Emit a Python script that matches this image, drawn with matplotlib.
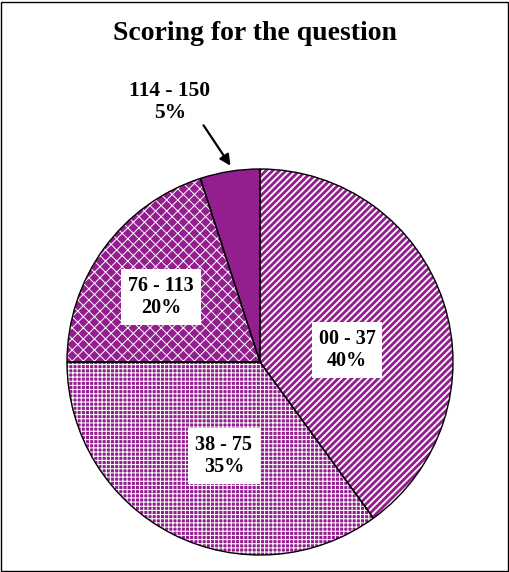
import matplotlib.pyplot as plt
from matplotlib.patches import Rectangle

ranges = ['00 - 37', '38 - 75', '76 - 113', '114 - 150']
shares = [40, 35, 20, 5]
hatches = ['/////', '++++', 'xxx', '']
hatch_lw = [1.3, 0.75, 0.7, 1.0]
# label centres (pixels, y from top)
label_pos = [(347, 350), (224, 456), (161, 297), (170, 102)]
title = 'Scoring for the question'

purple = '#931F8F'
serif = ['Liberation Serif', 'DejaVu Serif']

fig = plt.figure(figsize=(5.10, 5.72), dpi=100)
ax = fig.add_axes([0, 0, 1, 1])

center = (260, 362)
radius = 193

# fill + white hatch (y is inverted, so counterclock=True turns clockwise on screen)
wedges, _ = ax.pie(shares, center=center, radius=radius, startangle=-90,
                   counterclock=True, frame=True)
for w, h, lw in zip(wedges, hatches, hatch_lw):
    w.set_facecolor(purple)
    w.set_edgecolor('white')
    w.set_linewidth(0)
    w.set_hatch(h)
    if hasattr(w, 'set_hatch_linewidth'):
        w.set_hatch_linewidth(lw)

# black outlines on top
ax.pie(shares, center=center, radius=radius, startangle=-90,
       counterclock=True, frame=True,
       wedgeprops=dict(fill=False, edgecolor='black', linewidth=1.0))
ax.set_xlim(0, 510)
ax.set_ylim(572, 0)
ax.set_aspect('equal')
ax.axis('off')

for i, (r, s) in enumerate(zip(ranges, shares)):
    x, y = label_pos[i]
    txt = f'{r}\n{s}%'
    if i < 3:
        ax.text(x, y, txt, ha='center', va='center', fontsize=14.5, fontweight='bold',
                family=serif, linespacing=1.15,
                bbox=dict(boxstyle='square,pad=0.35', facecolor='white', edgecolor='none'))
    else:
        ax.text(x, y, txt, ha='center', va='center', fontsize=15.5, fontweight='bold',
                family=serif, linespacing=1.1)
        ax.annotate('', xy=(232, 168), xytext=(202, 123),
                    arrowprops=dict(arrowstyle='-|>', color='black', lw=1.6,
                                    mutation_scale=16))

fig.text(0.5, 1 - 33 / 572, title, ha='center', va='center', fontsize=20,
         fontweight='bold', family=serif)

fig.patches.append(Rectangle((0.002, 0.002), 0.995, 0.995, transform=fig.transFigure,
                             fill=False, edgecolor='black', linewidth=1.0))

fig.savefig('out.png', dpi=100)
